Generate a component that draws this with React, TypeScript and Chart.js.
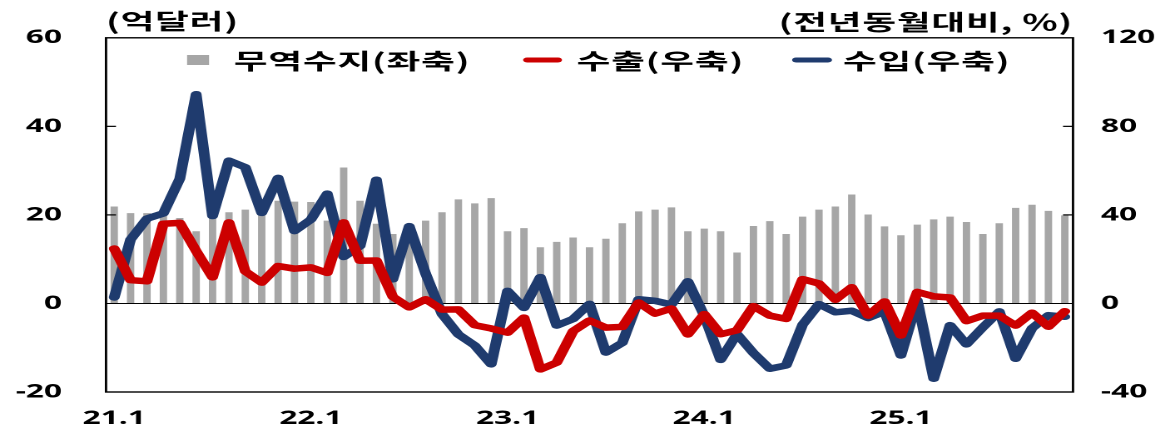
import React, { useEffect, useRef } from 'react';
import { Chart, registerables } from 'chart.js';

Chart.register(...registerables);

// ---------------- data ----------------
const categories = [
  '21.1', '21.2', '21.3', '21.4', '21.5', '21.6', '21.7', '21.8', '21.9', '21.10', '21.11', '21.12',
  '22.1', '22.2', '22.3', '22.4', '22.5', '22.6', '22.7', '22.8', '22.9', '22.10', '22.11', '22.12',
  '23.1', '23.2', '23.3', '23.4', '23.5', '23.6', '23.7', '23.8', '23.9', '23.10', '23.11', '23.12',
  '24.1', '24.2', '24.3', '24.4', '24.5', '24.6', '24.7', '24.8', '24.9', '24.10', '24.11', '24.12',
  '25.1', '25.2', '25.3', '25.4', '25.5', '25.6', '25.7', '25.8', '25.9', '25.10', '25.11',
];

const tickLabels = ['21.1', '22.1', '23.1', '24.1', '25.1'];

// 무역수지 (억달러, left axis)
const tradeBalance = [
  21.9, 20.4, 20.4, 20.5, 19.3, 16.3, 20.5, 20.6, 21.2, 22.5, 23.2, 23.0,
  22.9, 18.7, 30.7, 23.2, 18.0, 15.7, 17.5, 18.7, 20.6, 23.5, 22.6, 23.8,
  16.3, 17.0, 12.7, 13.9, 14.9, 12.7, 14.6, 18.1, 20.8, 21.2, 21.7, 16.3,
  16.9, 16.3, 11.5, 17.5, 18.6, 15.7, 19.6, 21.2, 21.9, 24.6, 20.1, 17.4,
  15.4, 17.8, 19.0, 19.6, 18.4, 15.7, 18.1, 21.6, 22.3, 20.9, 19.9,
];

// 수출 (전년동월대비 %, right axis)
const exportsYoY = [
  24.8, 10.5, 10.0, 36.0, 36.4, 23.7, 11.8, 36.6, 14.5, 9.4, 16.9, 15.7,
  16.3, 13.8, 36.6, 19.3, 19.4, 3.0, -1.8, 1.9, -2.8, -2.7, -9.8, -11.3,
  -13.2, -6.4, -29.8, -26.7, -12.5, -7.7, -10.9, -10.6, 0.4, -4.6, -2.3, -14.0,
  -4.8, -13.9, -12.1, -1.2, -5.5, -7.0, 11.0, 9.0, 1.7, 7.3, -5.5, 0.9,
  -14.5, 5.2, 3.2, 2.7, -8.0, -5.5, -5.5, -10.0, -4.2, -10.5, -3.5,
];

// 수입 (전년동월대비 %, right axis)
const importsYoY = [
  2.7, 28.9, 38.3, 40.7, 56.3, 94.5, 39.5, 64.5, 61.5, 40.9, 56.7, 32.7,
  37.9, 49.6, 21.0, 25.9, 55.9, 10.9, 34.9, 13.5, -4.8, -14.0, -19.0, -27.5,
  5.7, -2.0, 11.9, -10.0, -7.0, -0.2, -22.2, -17.8, 1.9, 1.2, -0.5, 10.0,
  -5.5, -25.5, -13.8, -22.4, -29.5, -28.0, -9.6, -0.3, -4.0, -3.3, -6.6, -3.7,
  -23.5, 1.4, -34.0, -9.8, -18.5, -10.8, -3.6, -25.0, -11.2, -5.3, -6.0,
];

const leftTicks = [-20, 0, 20, 40, 60];
const rightTicks = [-40, 0, 40, 80, 120];

const seriesNames = ['무역수지(좌축)', '수출(우축)', '수입(우축)'];
const leftTitle = '(억달러)';
const rightTitle = '(전년동월대비, %)';

// ---------------- styling ----------------
const W = 700;
const H = 431;
const SX = 1165 / W;

const GRAY = '#A6A6A6';
const RED = '#CC0000';
const BLUE = '#1F3B6E';

const NUM_FONT = { family: "'Noto Sans', 'DejaVu Sans', sans-serif", size: 19, weight: 'bold' as const };
const KR_FONT = "bold 22px 'Noto Sans CJK KR', 'Noto Sans', sans-serif";

const decorPlugin = {
  id: 'decor',
  afterDatasetDraw(chart: any, args: any) {
    if (args.index !== 0) return;
    const { ctx, chartArea: a, scales } = chart;
    const y0 = scales.y.getPixelForValue(0);
    ctx.save();
    ctx.strokeStyle = '#000';
    ctx.lineWidth = 1;
    ctx.beginPath();
    ctx.moveTo(a.left, y0);
    ctx.lineTo(a.right, y0);
    ctx.stroke();
    ctx.restore();
  },
  afterDraw(chart: any) {
    const { ctx, chartArea: a, scales } = chart;
    ctx.save();
    ctx.strokeStyle = '#000';
    ctx.lineWidth = 1.4;
    ctx.strokeRect(a.left, a.top, a.right - a.left, a.bottom - a.top);

    // inward tick marks
    ctx.lineWidth = 1.2;
    const tl = 6;
    scales.y.ticks.forEach((t: any) => {
      if (t.value <= scales.y.min || t.value >= scales.y.max || t.value === 0) return;
      const p = scales.y.getPixelForValue(t.value);
      ctx.beginPath();
      ctx.moveTo(a.left, p);
      ctx.lineTo(a.left + tl, p);
      ctx.stroke();
    });
    scales.y1.ticks.forEach((t: any) => {
      if (t.value <= scales.y1.min || t.value >= scales.y1.max || t.value === 0) return;
      const p = scales.y1.getPixelForValue(t.value);
      ctx.beginPath();
      ctx.moveTo(a.right - tl, p);
      ctx.lineTo(a.right, p);
      ctx.stroke();
    });

    // axis titles
    ctx.fillStyle = '#000';
    ctx.font = KR_FONT;
    try {
      (ctx as any).letterSpacing = '0.5px';
    } catch (e) {
      /* ignore */
    }
    ctx.textBaseline = 'middle';
    ctx.textAlign = 'left';
    ctx.fillText(leftTitle, a.left, 21);
    ctx.textAlign = 'right';
    ctx.fillText(rightTitle, a.right, 22);

    // legend
    const ly = 60;
    const ds = chart.data.datasets;
    ctx.textAlign = 'left';
    // bar swatch
    ctx.fillStyle = ds[0].backgroundColor;
    ctx.fillRect(112.4, ly - 5, 13.2, 10);
    ctx.fillStyle = '#000';
    ctx.fillText(ds[0].label, 140.5, ly + 1);
    // red line
    ctx.lineCap = 'round';
    ctx.lineWidth = 5;
    ctx.strokeStyle = ds[1].borderColor;
    ctx.beginPath();
    ctx.moveTo(316.8, ly);
    ctx.lineTo(335.2, ly);
    ctx.stroke();
    ctx.fillText(ds[1].label, 346.5, ly + 1);
    // blue line
    ctx.strokeStyle = ds[2].borderColor;
    ctx.beginPath();
    ctx.moveTo(478.4, ly);
    ctx.lineTo(497.4, ly);
    ctx.stroke();
    ctx.fillText(ds[2].label, 506.5, ly + 1);
    ctx.restore();
  },
};

export default function App() {
  const canvasRef = useRef<HTMLCanvasElement | null>(null);

  useEffect(() => {
    const canvas = canvasRef.current;
    if (!canvas) return;
    const chart = new Chart(canvas, {
      type: 'bar',
      data: {
        labels: categories,
        datasets: [
          {
            type: 'bar',
            label: seriesNames[0],
            data: tradeBalance,
            backgroundColor: GRAY,
            borderWidth: 0,
            yAxisID: 'y',
            barPercentage: 0.45,
            categoryPercentage: 1.0,
            order: 3,
          },
          {
            type: 'line',
            label: seriesNames[1],
            data: exportsYoY,
            borderColor: RED,
            backgroundColor: RED,
            borderWidth: 6.5,
            pointRadius: 0,
            tension: 0,
            borderJoinStyle: 'round',
            borderCapStyle: 'round',
            yAxisID: 'y1',
            order: 1,
          },
          {
            type: 'line',
            label: seriesNames[2],
            data: importsYoY,
            borderColor: BLUE,
            backgroundColor: BLUE,
            borderWidth: 6.5,
            pointRadius: 0,
            tension: 0,
            borderJoinStyle: 'round',
            borderCapStyle: 'round',
            yAxisID: 'y1',
            order: 2,
          },
        ] as any,
      },
      options: {
        responsive: false,
        animation: false,
        devicePixelRatio: 2,
        events: [],
        layout: { padding: { top: 36, left: 0, right: 0, bottom: 0 } },
        plugins: {
          legend: { display: false },
          tooltip: { enabled: false },
          title: { display: false },
        },
        scales: {
          x: {
            grid: { display: false, drawTicks: false },
            border: { display: false },
            ticks: {
              autoSkip: false,
              maxRotation: 0,
              minRotation: 0,
              padding: 15,
              color: '#000',
              font: NUM_FONT,
              callback: (value: any) => {
                const l = categories[value as number];
                return tickLabels.includes(l) ? l : '';
              },
            },
            afterFit: (s: any) => {
              s.height = 39;
            },
          },
          y: {
            position: 'left',
            min: leftTicks[0],
            max: leftTicks[leftTicks.length - 1],
            grid: { display: false, drawTicks: false },
            border: { display: false },
            ticks: {
              stepSize: leftTicks[1] - leftTicks[0],
              padding: 26.4,
              color: '#000',
              font: NUM_FONT,
            },
            afterFit: (s: any) => {
              s.width = 106 / SX;
            },
          },
          y1: {
            position: 'right',
            min: rightTicks[0],
            max: rightTicks[rightTicks.length - 1],
            grid: { display: false, drawTicks: false },
            border: { display: false },
            ticks: {
              stepSize: rightTicks[1] - rightTicks[0],
              padding: 16.8,
              color: '#000',
              font: NUM_FONT,
            },
            afterFit: (s: any) => {
              s.width = W - 1073 / SX;
            },
          },
        },
      } as any,
      plugins: [decorPlugin],
    });
    return () => chart.destroy();
  }, []);

  return (
    <div
      style={{
        position: 'fixed',
        left: 0,
        top: 0,
        width: 1165,
        height: 431,
        overflow: 'hidden',
        background: '#fff',
      }}
    >
      <div style={{ transform: `scale(${SX}, 1)`, transformOrigin: '0 0', width: W, height: H }}>
        <canvas ref={canvasRef} width={W} height={H} />
      </div>
    </div>
  );
}
